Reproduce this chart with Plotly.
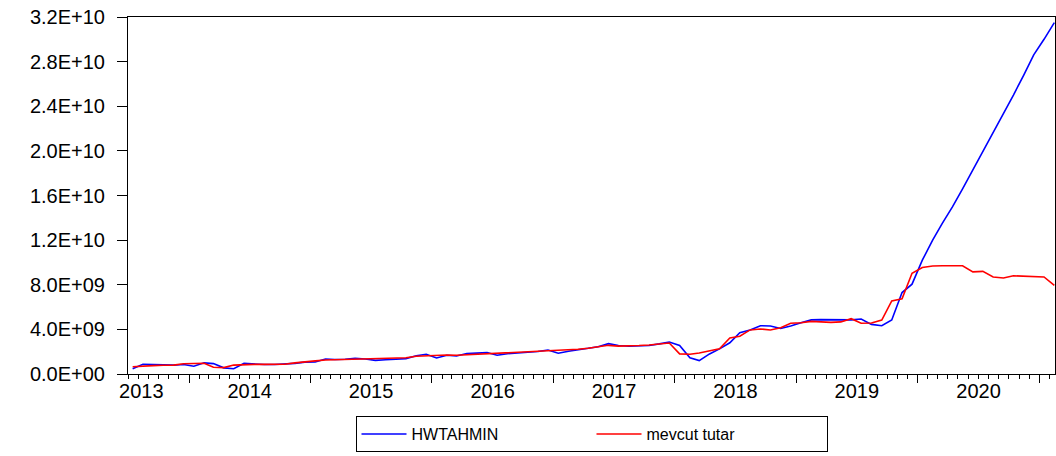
import pandas as pd
import plotly.graph_objects as go

# Monthly observations, 2013M07 - 2021M02 (values in units of 1e9)
months = pd.date_range('2013-07-01', periods=92, freq='MS') + pd.Timedelta(days=14)

hwtahmin = [
    0.47, 0.87, 0.85, 0.80, 0.80, 0.85, 0.69, 1.00, 0.93, 0.55, 0.47, 0.95, 0.88, 0.85, 0.85,
    0.88, 0.95, 1.06, 1.08, 1.35, 1.30, 1.32, 1.40, 1.35, 1.22, 1.28, 1.33, 1.38, 1.64, 1.77, 1.44, 1.68,
    1.62, 1.83, 1.87, 1.92, 1.68, 1.82, 1.88, 1.93, 2.02, 2.15, 1.86, 2.04, 2.18, 2.31, 2.45, 2.72,
    2.55, 2.50, 2.50, 2.55, 2.70, 2.87,
    2.55, 1.45, 1.20, 1.80, 2.25, 2.80, 3.70, 3.95, 4.33, 4.30, 4.08, 4.30,
    4.60, 4.85, 4.87, 4.85, 4.82, 4.85, 4.93, 4.45, 4.33,
    4.84, 7.30, 8.05, 10.20, 12.00, 13.50, 15.00, 16.60, 18.30, 20.00, 21.70, 23.30, 25.00,
    26.80, 28.60, 30.00, 31.50,
]

mevcut_tutar = [
    0.65, 0.72, 0.75, 0.78, 0.80, 0.92, 0.93, 0.96, 0.60, 0.57, 0.80, 0.86, 0.86, 0.86, 0.88,
    0.88, 1.00, 1.12, 1.18, 1.26, 1.28, 1.30, 1.32, 1.34, 1.35, 1.37, 1.40, 1.46, 1.59, 1.63, 1.68, 1.70,
    1.68, 1.72, 1.76, 1.82, 1.85, 1.89, 1.93, 1.97, 2.00, 2.04, 2.10, 2.15, 2.22, 2.31, 2.45, 2.57,
    2.50, 2.50, 2.55, 2.60, 2.70, 2.78,
    1.80, 1.77, 1.88, 2.09, 2.27, 3.23, 3.38, 3.95, 4.04, 3.95, 4.15, 4.55,
    4.60, 4.72, 4.65, 4.63, 4.67, 4.96, 4.55, 4.57, 4.84,
    6.55, 6.75, 9.03, 9.55, 9.68, 9.70, 9.70, 9.70, 9.15, 9.20, 8.70, 8.60, 8.80,
    8.78, 8.75, 8.70, 7.95,
]

years = ['2013', '2014', '2015', '2016', '2017', '2018', '2019', '2020']
year_label_dates = ['2013-08-10', '2014-07-02', '2015-07-02', '2016-07-02',
                    '2017-07-02', '2018-07-02', '2019-07-02', '2020-07-02']
year_starts = ['2014-01-01', '2015-01-01', '2016-01-01', '2017-01-01',
               '2018-01-01', '2019-01-01', '2020-01-01', '2021-01-01']

y_ticks = [0, 4e9, 8e9, 1.2e10, 1.6e10, 2.0e10, 2.4e10, 2.8e10, 3.2e10]
y_tick_labels = ['0.0E+00', '4.0E+09', '8.0E+09', '1.2E+10', '1.6E+10',
                 '2.0E+10', '2.4E+10', '2.8E+10', '3.2E+10']

x_range = ['2013-07-01', '2021-02-17']
font = dict(family='Liberation Sans, Arial, sans-serif', size=20, color='black')
legend_font = dict(family='Liberation Sans, Arial, sans-serif', size=16, color='black')

fig = go.Figure()
fig.add_trace(go.Scatter(
    x=months, y=[v * 1e9 for v in hwtahmin], name='HWTAHMIN',
    mode='lines', line=dict(color='#0000FF', width=1.6), xaxis='x'
))
fig.add_trace(go.Scatter(
    x=months, y=[v * 1e9 for v in mevcut_tutar], name='mevcut tutar',
    mode='lines', line=dict(color='#FF0000', width=1.6), xaxis='x2'
))

fig.update_layout(
    width=1056, height=456,
    margin=dict(l=128, r=1, t=17, b=82, autoexpand=False),
    plot_bgcolor='white', paper_bgcolor='white',
    font=font,
    showlegend=True,
    legend=dict(
        orientation='h', x=0.5, xanchor='center', y=-0.118, yanchor='top',
        bordercolor='black', borderwidth=1, itemwidth=45,
        entrywidth=175, entrywidthmode='pixels',
        tracegroupgap=0, font=legend_font,
    ),
    xaxis=dict(
        type='date', range=x_range, automargin=False,
        tickvals=year_starts, showticklabels=False,
        ticks='outside', ticklen=8, tickcolor='black', tickwidth=1,
        minor=dict(dtick='M1', tick0='2013-01-01', ticks='outside', ticklen=4,
                   tickcolor='black', showgrid=False),
        showline=True, linecolor='black', linewidth=1, mirror=True,
        showgrid=False, zeroline=False,
    ),
    xaxis2=dict(
        type='date', range=x_range, overlaying='x', anchor='y', side='bottom',
        automargin=False,
        tickvals=year_label_dates, ticktext=years, ticks='', ticklabelstandoff=3,
        showline=False, showgrid=False, zeroline=False, tickfont=font,
    ),
    yaxis=dict(
        range=[0, 3.2e10], tickvals=y_ticks, ticktext=y_tick_labels, automargin=False,
        ticks='outside', ticklen=10, tickcolor='black', ticklabelstandoff=8,
        showline=True, linecolor='black', linewidth=1, mirror=True,
        showgrid=False, zeroline=False, tickfont=font,
    ),
)

# drop the default page margin so the figure fills the window exactly
fig.write_html('out.html', config={'displayModeBar': False},
               post_script="document.body.style.margin = '0';")
